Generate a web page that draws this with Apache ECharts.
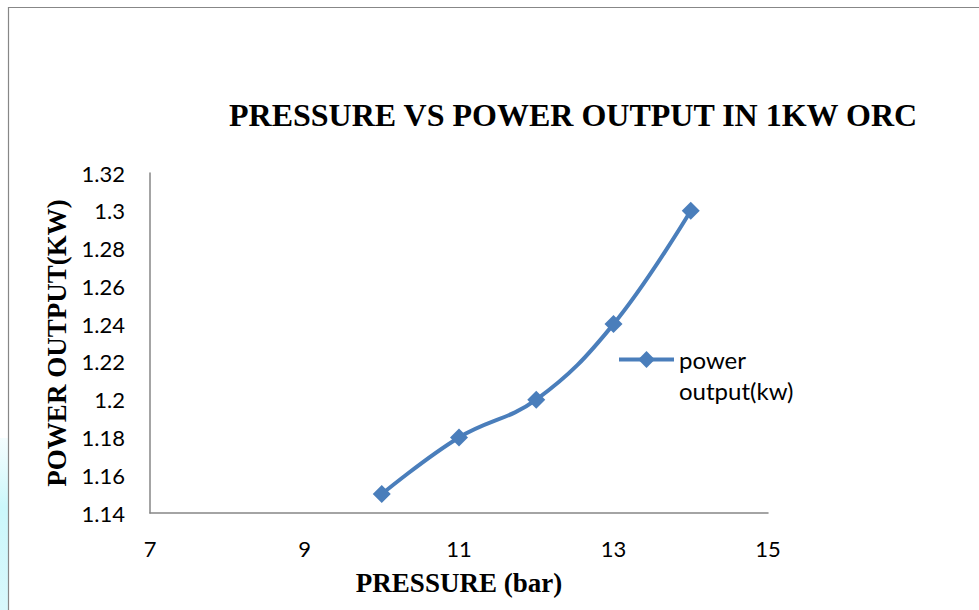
<!DOCTYPE html>
<html>
<head>
<meta charset="utf-8">
<script src="https://cdn.jsdelivr.net/npm/echarts@6/dist/echarts.min.js"></script>
<style>
  html, body { margin: 0; padding: 0; background: #ffffff; }
  #chart { width: 979px; height: 610px; }
</style>
</head>
<body>
<div id="chart"></div>
<script>
// ---- Data ----
const pressure = [10, 11, 12, 13, 14];
const powerOutput = [1.15, 1.18, 1.2, 1.24, 1.3];
const seriesName = 'power output(kw)';
const legendLabel = '\npower\noutput(kw)';
const titleText = 'PRESSURE VS POWER OUTPUT IN 1KW ORC';
const xAxisName = 'PRESSURE (bar)';
const yAxisName = 'POWER OUTPUT(KW)';

const points = pressure.map((p, i) => [p, powerOutput[i]]);

const chart = echarts.init(document.getElementById('chart'), null, { renderer: 'svg' });
const blue = '#4a7ebb';
const serif = '"Liberation Serif", "Times New Roman", serif';
const sans = 'Lato, "Open Sans", sans-serif';

chart.setOption({
  backgroundColor: '#ffffff',
  animation: false,
  title: {
    text: titleText,
    left: 229,
    top: 99,
    padding: 0,
    textStyle: { fontFamily: serif, fontWeight: 'bold', fontSize: 32, color: '#000' }
  },
  graphic: [
    {
      type: 'rect', silent: true, z: -1,
      shape: { x: 0, y: 438, width: 8, height: 172 },
      style: { fill: new echarts.graphic.LinearGradient(0, 0, 0, 1, [
        { offset: 0, color: 'rgba(200,245,250,0.2)' },
        { offset: 0.4, color: 'rgba(190,245,250,0.8)' },
        { offset: 1, color: 'rgba(200,245,250,0.7)' }
      ]) }
    },
    {
      type: 'rect', silent: true,
      shape: { x: 8.5, y: 7.5, width: 1100, height: 800 },
      style: { fill: 'none', stroke: '#878787', lineWidth: 1.2 }
    }
  ],
  legend: {
    data: [seriesName],
    left: 617,
    top: 313,
    padding: 0,
    itemWidth: 55,
    itemHeight: 21,
    itemGap: 0,
    formatter: () => legendLabel,
    lineStyle: { width: 4 },
    textStyle: { fontFamily: sans, fontSize: 24, color: '#000', lineHeight: 31 }
  },
  grid: { left: 150, top: 173, right: 211, bottom: 97, containLabel: false },
  xAxis: {
    type: 'value',
    min: 7, max: 15, interval: 2,
    name: xAxisName,
    nameLocation: 'middle',
    nameGap: 56,
    nameTextStyle: { fontFamily: serif, fontWeight: 'bold', fontSize: 27, color: '#000' },
    axisLine: { show: true, lineStyle: { color: '#868686', width: 1.5 } },
    axisTick: { show: false },
    splitLine: { show: false },
    axisLabel: { fontFamily: sans, fontSize: 22, color: '#000', margin: 24 }
  },
  yAxis: {
    type: 'value',
    min: 1.14, max: 1.32, interval: 0.02,
    name: yAxisName,
    nameLocation: 'middle',
    nameGap: 80,
    nameRotate: 90,
    nameTextStyle: { fontFamily: serif, fontWeight: 'bold', fontSize: 27, color: '#000' },
    axisLine: { show: true, lineStyle: { color: '#868686', width: 1.5 } },
    axisTick: { show: false },
    splitLine: { show: false },
    axisLabel: {
      fontFamily: sans, fontSize: 22, color: '#000', margin: 25,
      formatter: v => String(Math.round(v * 100) / 100)
    }
  },
  series: [{
    name: seriesName,
    type: 'line',
    data: points,
    smooth: 0.4,
    symbol: 'diamond',
    symbolSize: 18,
    lineStyle: { color: blue, width: 4 },
    itemStyle: { color: blue }
  }]
});
</script>
</body>
</html>
